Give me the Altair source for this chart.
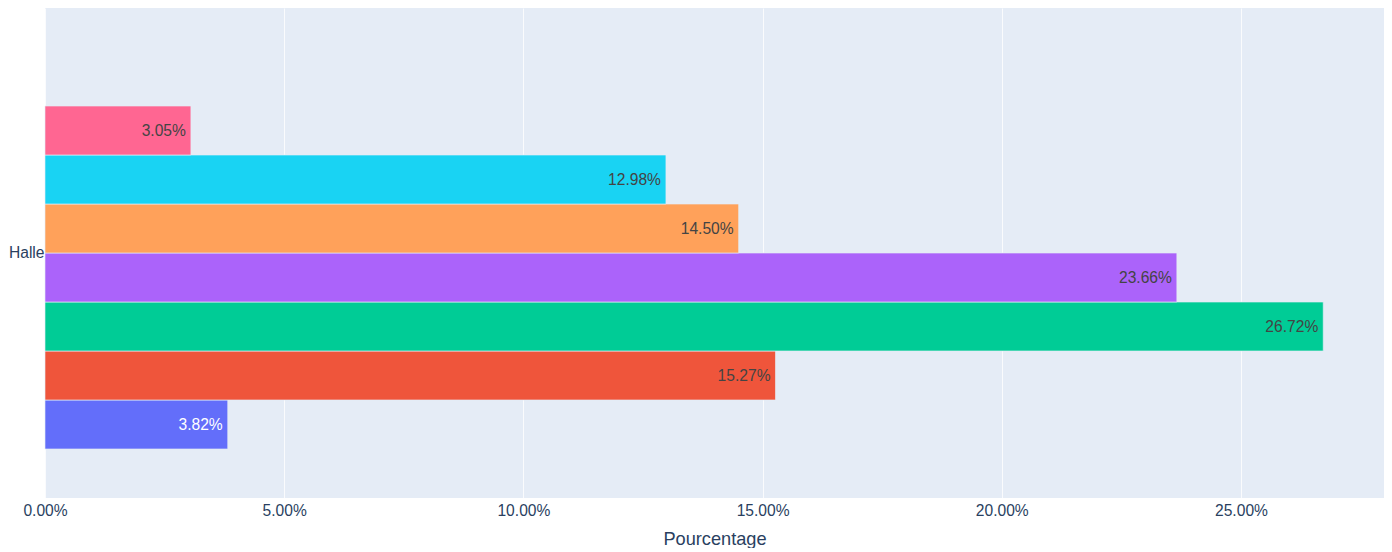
import altair as alt
import pandas as pd

category = "Halle"
series_names = ["Série 1", "Série 2", "Série 3", "Série 4", "Série 5", "Série 6", "Série 7", "Série 8"]
values = [0.0382, 0.1527, 0.2672, 0.2366, 0.1450, 0.1298, 0.0305, None]
colors = ["#636EFA", "#EF553B", "#00CC96", "#AB63FA", "#FFA15A", "#19D3F3", "#FF6692", "#B6E880"]
text_colors = ["#FFFFFF", "#444444", "#444444", "#444444", "#444444", "#444444", "#444444", "#444444"]
x_ticks = [0, 0.05, 0.10, 0.15, 0.20, 0.25]

rows = [
    {"cat": category, "serie": n, "val": v, "tc": tc}
    for n, v, tc in zip(series_names, values, text_colors)
    if v is not None
]
df = pd.DataFrame(rows)

FONT = "Liberation Sans, Arial, sans-serif"
offset_domain = series_names[::-1]

y_enc = alt.Y("cat:N", title=None,
              scale=alt.Scale(paddingInner=0.2, paddingOuter=0.1),
              axis=alt.Axis(ticks=False, domain=False, labelPadding=1, labelFontSize=15.6,
                            labelColor="#2a3f5f", labelFont=FONT))
yoff_enc = alt.YOffset("serie:N", scale=alt.Scale(domain=offset_domain, paddingInner=0, paddingOuter=0))
x_enc = alt.X("val:Q", title="Pourcentage",
              scale=alt.Scale(domain=[0, 0.2799], nice=False, zero=True),
              axis=alt.Axis(values=x_ticks, format=".2%", grid=True, gridColor="white", gridWidth=1,
                            gridOpacity=0.8,
                            domain=False, ticks=False, labelFlush=False, labelPadding=5,
                            labelFontSize=15.6, labelColor="#2a3f5f", labelFont=FONT,
                            titleFontSize=18.2, titleColor="#2a3f5f", titleFont=FONT,
                            titleFontWeight="normal", titlePadding=12))

bars = alt.Chart(df).mark_bar(stroke="#E5ECF6", strokeWidth=0.65).encode(
    y=y_enc, yOffset=yoff_enc, x=x_enc,
    color=alt.Color("serie:N", scale=alt.Scale(domain=series_names, range=colors), legend=None),
)

texts = alt.Chart(df).mark_text(align="right", baseline="middle", dx=-5, fontSize=15.6, font=FONT).encode(
    y=alt.Y("cat:N"), yOffset=alt.YOffset("serie:N"), x=alt.X("val:Q"),
    text=alt.Text("val:Q", format=".2%"),
    color=alt.Color("tc:N", scale=None, legend=None),
)

chart = (bars + texts).properties(
    width=1339, height=490, padding=0, background="white"
).configure_view(fill="#E5ECF6", stroke=None)

chart.save("out.html", embed_options={"renderer": "svg", "actions": False})
